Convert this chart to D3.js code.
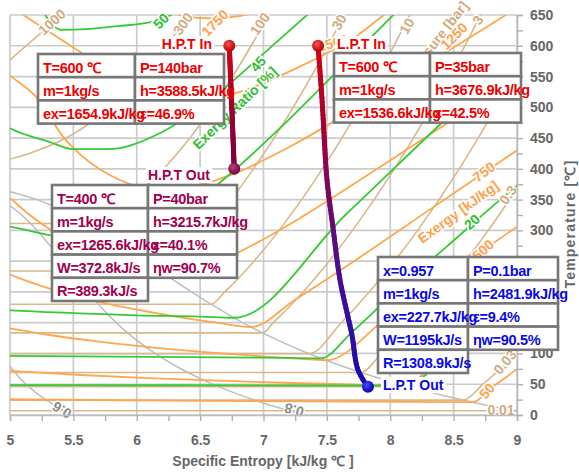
<!DOCTYPE html>
<html>
<head>
<meta charset="utf-8">
<script src="https://cdn.jsdelivr.net/npm/d3@7"></script>
<style>
	body { margin: 0; background: #fff; }
	svg text { font-family: 'Liberation Sans', Arial, sans-serif; font-weight: bold; }
</style>
</head>
<body>
<div id="container"></div>
<script>
'use strict';

// axis ticks
let sTicks = [5, 5.5, 6, 6.5, 7, 7.5, 8, 8.5, 9];
let tTicks = [0, 50, 100, 150, 200, 250, 300, 350, 400, 450, 500, 550, 600, 650];

// isobars [s kJ/kgK, T C]
let isobar0_01 = [[4.9, 7], [8.975, 7], [9.05, 12]];
let isobar0_03 = [[4.9, 24.1], [8.578, 24.1], [8.731, 50], [9.004, 100], [9.05, 108]];
let isobar0_1 = [[4.9, 45.8], [8.149, 45.8], [8.175, 50], [8.448, 100], [8.688, 150], [8.904, 200], [9.1, 250]];
let isobar0_3 = [[4.9, 69.1], [7.768, 69.1], [7.931, 100], [8.176, 150], [8.394, 200], [8.591, 250], [8.773, 300], [9.1, 400]];
let isobar1 = [[4.9, 99.6], [7.359, 99.6], [7.614, 150], [7.834, 200], [8.033, 250], [8.216, 300], [8.544, 400], [8.834, 500], [9.098, 600]];
let isobar3 = [[4.9, 133.5], [6.992, 133.5], [7.078, 150], [7.312, 200], [7.517, 250], [7.702, 300], [8.033, 400], [8.325, 500], [8.589, 600], [8.832, 700]];
let isobar10 = [[4.9, 179.9], [6.586, 179.9], [6.694, 200], [6.925, 250], [7.123, 300], [7.301, 350], [7.465, 400], [7.762, 500], [8.029, 600], [8.273, 700]];
let isobar30 = [[4.9, 233.9], [6.187, 233.9], [6.287, 250], [6.539, 300], [6.743, 350], [6.921, 400], [7.083, 450], [7.234, 500], [7.509, 600], [7.757, 700]];
let isobar100 = [[4.9, 311.1], [5.614, 311.1], [5.944, 350], [6.212, 400], [6.419, 450], [6.597, 500], [6.756, 550], [6.903, 600], [7.04, 650], [7.17, 700]];
let isobar300 = [[4.473, 400], [5.15, 425], [5.442, 450], [5.79, 500], [6.034, 550], [6.233, 600], [6.406, 650], [6.56, 700]];
let isobar1000 = [[4.8, 540], [5.0, 577], [5.24, 620], [5.4, 650], [5.5, 670]];

// saturated vapour and quality lines
let satVapour = [[4.8, 370], [5.053, 360], [5.211, 350], [5.335, 340], [5.537, 320], [5.705, 300], [5.852, 280], [5.998, 260], [6.141, 240], [6.285, 220], [6.432, 200], [6.586, 180], [6.75, 160], [6.929, 140], [7.129, 120], [7.354, 100], [7.611, 80], [7.908, 60], [8.075, 50], [8.256, 40], [8.452, 30], [8.666, 20], [8.975, 7], [9.156, 0]];
let quality0_8 = [[4.9, 350], [5.0, 340], [5.215, 300], [5.375, 260], [5.532, 220], [5.697, 180], [5.891, 140], [6.145, 100], [6.304, 80], [6.493, 60], [6.719, 40], [6.992, 20], [7.201, 7], [7.325, 0]];
let quality0_6 = [[4.95, 90], [4.997, 80], [5.077, 60], [5.182, 40], [5.318, 20], [5.427, 7], [5.494, 0]];

// exergy lines [kJ/kg]
let exergy50 = [[4.83, 26], [5.29, 25], [5.84, 24], [6.53, 23], [7.41, 22], [8.59, 21], [8.65, 20.9], [8.8, 44.4], [9.0, 74.8], [9.05, 83]];
let exergy250 = [[4.8, 75], [4.99, 72], [5.139, 70], [5.561, 65], [6.09, 60], [6.753, 55], [7.238, 52], [7.614, 50], [8.1, 47.6], [8.366, 85], [8.7, 134.7], [9.0, 179.5], [9.05, 187]];
let exergy500 = [[4.9, 144], [5.021, 140], [5.312, 130], [5.67, 120], [6.114, 110], [6.671, 100], [7.009, 95], [7.393, 90], [7.493, 88.8], [7.978, 158.8], [8.5, 234], [9.0, 306], [9.05, 313]];
let exergy750 = [[4.98, 230], [5.104, 220], [5.399, 200], [5.784, 180], [6.307, 160], [6.632, 150], [6.903, 143], [7.246, 187], [7.702, 248.4], [8.34, 337.8], [8.919, 418.8], [9.05, 437]];
let exergy1000 = [[4.95, 356], [5.014, 350], [5.069, 340], [5.187, 320], [5.328, 300], [5.502, 280], [5.719, 260], [5.988, 240], [6.259, 223.7], [6.461, 234.5], [6.741, 258], [7.122, 299.7], [7.901, 400.7], [8.431, 471.8], [8.938, 539.5], [9.05, 555]];
let exergy1250 = [[4.9, 570], [5.0, 552], [5.21, 516], [5.431, 449], [5.517, 430.5], [5.629, 410.8], [5.79, 389.6], [6.046, 369.7], [6.206, 366.3], [6.418, 370.3], [6.728, 389], [7.252, 441], [7.775, 504.6], [8.423, 587.5], [8.892, 647.6], [9.0, 662]];
let exergy1500 = [[5.0, 664], [5.5, 597], [5.804, 555.5], [5.959, 534.6], [6.063, 524], [6.205, 515.2], [6.379, 510], [6.646, 515.6], [6.794, 523.7], [7.27, 564.5], [7.746, 617.7], [7.95, 650], [8.0, 658]];
let exergy1750 = [[6.25, 655], [6.398, 647.6], [6.507, 645], [6.621, 644.7], [6.82, 648.7], [6.95, 655]];

// exergy ratio lines [%]
let ratio10 = [[4.9, 48.8], [5.0, 48.7], [7.0, 48.2], [8.11, 47.9], [8.568, 124], [9.0, 195], [9.05, 203]];
let ratio20 = [[4.9, 96.5], [5.0, 96], [7.2, 92.8], [7.45, 92], [7.7, 135], [8.0, 193], [8.436, 272], [9.0, 372], [9.05, 380]];
let ratio30 = [[4.9, 171], [5.0, 170], [6.0, 162], [6.5, 160], [6.77, 158], [7.656, 327], [8.483, 489.5], [9.12, 610]];
let ratio40 = [[4.9, 310], [5.0, 306], [5.5, 285], [5.89, 275.6], [6.33, 325], [6.738, 392], [7.134, 467], [7.601, 562.5], [8.29, 705]];
let ratio45 = [[4.9, 478], [5.0, 466], [5.309, 444], [5.501, 432], [5.776, 431.9], [6.166, 456.3], [6.7, 532.4], [6.961, 580], [7.3, 642], [7.4, 660]];
let ratio50 = [[5.25, 660], [5.33, 635], [5.4, 626], [5.6, 627], [5.85, 632], [6.1, 638], [6.25, 648], [6.35, 660]];

// turbine expansion lines
let hptLine = [[6.73, 600], [6.75, 500], [6.769, 400]];
let lptLine = [[7.43, 600], [7.462, 512], [7.501, 382], [7.548, 305], [7.604, 219], [7.667, 159], [7.698, 130], [7.738, 78], [7.777, 60], [7.824, 45.8]];

// state tables
let hptInRows = [['T=600 ℃', 'P=140bar'], ['m=1kg/s', 'h=3588.5kJ/kg'], ['ex=1654.9kJ/kg', 'ε=46.9%']];
let lptInRows = [['T=600 ℃', 'P=35bar'], ['m=1kg/s', 'h=3676.9kJ/kg'], ['ex=1536.6kJ/kg', 'ε=42.5%']];
let hptOutRows = [['T=400 ℃', 'P=40bar'], ['m=1kg/s', 'h=3215.7kJ/kg'], ['ex=1265.6kJ/kg', 'ε=40.1%'], ['W=372.8kJ/s', 'ηw=90.7%'], ['R=389.3kJ/s']];
let lptOutRows = [['x=0.957', 'P=0.1bar'], ['m=1kg/s', 'h=2481.9kJ/kg'], ['ex=227.7kJ/kg', 'ε=9.4%'], ['W=1195kJ/s', 'ηw=90.5%'], ['R=1308.9kJ/s']];

let svg = d3.select('#container')
	.append('svg')
	.attr('width', 579)
	.attr('height', 472)
	.style('background', '#fff');

let x = d3.scaleLinear().domain([5, 9]).range([10, 517]);
let y = d3.scaleLinear().domain([0, 650]).range([415, 15]);

let defs = svg.append('defs');
defs.append('clipPath').attr('id', 'plot')
	.append('rect').attr('x', 10).attr('y', 15).attr('width', 507).attr('height', 400);

function ball(id, light, dark) {
	let g = defs.append('radialGradient').attr('id', id).attr('cx', '40%').attr('cy', '35%').attr('r', '65%');
	g.append('stop').attr('offset', '0%').attr('stop-color', light);
	g.append('stop').attr('offset', '100%').attr('stop-color', dark);
}
ball('redBall', '#ff5050', '#b00000');
ball('wineBall', '#c0407a', '#6e0038');
ball('blueBall', '#4a4aff', '#0000a8');

// grid
let grid = svg.append('g');
grid.selectAll('.v').data(sTicks).enter().append('line')
	.attr('x1', d => x(d)).attr('x2', d => x(d))
	.attr('y1', y(0)).attr('y2', y(650))
	.attr('stroke', '#cbcbcb').attr('stroke-width', 1.7);
grid.selectAll('.h').data(tTicks).enter().append('line')
	.attr('x1', x(5)).attr('x2', x(9))
	.attr('y1', d => y(d)).attr('y2', d => y(d))
	.attr('stroke', '#cbcbcb').attr('stroke-width', 1.7);

// property lines
let lineGen = d3.line().x(d => x(d[0])).y(d => y(d[1])).curve(d3.curveMonotoneX);
let curves = svg.append('g').attr('clip-path', 'url(#plot)');

function drawFamily(list, color, w) {
	curves.append('g').selectAll('path').data(list).enter().append('path')
		.attr('d', lineGen)
		.attr('fill', 'none')
		.attr('stroke', color)
		.attr('stroke-width', w);
}
drawFamily([satVapour, quality0_8, quality0_6], '#bebebe', 1.5);
drawFamily([isobar0_01, isobar0_03, isobar0_1, isobar0_3, isobar1, isobar3, isobar10, isobar30, isobar100, isobar300, isobar1000], '#dab78c', 1.6);
drawFamily([exergy50, exergy250, exergy500, exergy750, exergy1000, exergy1250, exergy1500, exergy1750], '#ffa64f', 1.8);
drawFamily([ratio10, ratio20, ratio30, ratio40, ratio45, ratio50], '#36c936', 1.8);

// line labels
let lineLabels = [
	{ t: '1000', s: 5.331, T: 638.6, a: -42, c: '#d2aa80' },
	{ t: '300', s: 6.365, T: 635.4, a: -55, c: '#d2aa80' },
	{ t: '100', s: 6.972, T: 635.4, a: -55, c: '#d2aa80' },
	{ t: '30', s: 7.596, T: 638.6, a: -60, c: '#d2aa80' },
	{ t: '10', s: 8.132, T: 632.1, a: -60, c: '#d2aa80' },
	{ t: '3', s: 8.692, T: 641.9, a: -58, c: '#d2aa80' },
	{ t: '0.3', s: 8.929, T: 357.5, a: -55, c: '#d2aa80' },
	{ t: '0.03', s: 8.905, T: 86.1, a: -50, c: '#d2aa80' },
	{ t: '0.01', s: 8.874, T: 8.1, a: 0, c: '#d2aa80' },
	{ t: '0.6', s: 5.41, T: 8.1, a: 210, c: '#8a8a8a' },
	{ t: '0.8', s: 7.241, T: 8.1, a: 195, c: '#8a8a8a' },
	{ t: '1750', s: 6.617, T: 637, a: -45, c: '#ffa04a' },
	{ t: '1500', s: 7.549, T: 604.5, a: -15, c: '#ffa04a' },
	{ t: 'Pressure [bar]', s: 8.361, T: 608.6, a: -52, c: '#d2aa80' },
	{ t: '1250', s: 8.503, T: 615.7, a: -45, c: '#ffa04a' },
	{ t: '750', s: 8.74, T: 394.9, a: -38, c: '#ffa04a' },
	{ t: '500', s: 8.732, T: 268.1, a: -42, c: '#ffa04a' },
	{ t: '50', s: 8.763, T: 39, a: -50, c: '#ffa04a' },
	{ t: 'Exergy [kJ/kg]', s: 8.535, T: 329.9, a: -36, c: '#ffa04a' },
	{ t: '50', s: 6.191, T: 640.25, a: -45, c: '#2ec02e' },
	{ t: '45', s: 6.957, T: 570.4, a: -50, c: '#2ec02e' },
	{ t: 'Exergy Ratio [%]', s: 6.775, T: 498.9, a: -44, c: '#2ec02e' },
	{ t: '20', s: 8.645, T: 313.6, a: -42, c: '#2ec02e' }
];
svg.append('g').selectAll('text').data(lineLabels).enter().append('text')
	.attr('transform', d => 'translate(' + x(d.s) + ',' + y(d.T) + ') rotate(' + d.a + ')')
	.attr('text-anchor', 'middle')
	.attr('dy', '0.35em')
	.attr('fill', d => d.c)
	.attr('stroke', '#fff')
	.attr('stroke-width', 3)
	.attr('paint-order', 'stroke')
	.style('font-size', '14px')
	.text(d => d.t);

// axes
let xAxis = d3.axisBottom(x)
	.tickValues(d3.range(5, 9.01, 0.25))
	.tickSize(6)
	.tickPadding(14)
	.tickFormat(d => sTicks.includes(d) ? String(d) : '');
let gx = svg.append('g').attr('transform', 'translate(0,415)').call(xAxis);

let yAxis = d3.axisRight(y)
	.tickValues(d3.range(0, 651, 25))
	.tickSize(6)
	.tickPadding(7)
	.tickFormat(d => tTicks.includes(d) ? String(d) : '');
let gy = svg.append('g').attr('transform', 'translate(517,0)').call(yAxis);

[gx, gy].forEach(g => {
	g.select('.domain').attr('stroke', '#bdbdbd').attr('stroke-width', 1.6);
	g.selectAll('.tick line').attr('stroke', '#b0b0b0').attr('stroke-width', 1.4);
	g.selectAll('.tick text').attr('fill', '#666').style('font-size', '14px').style('font-family', "'Liberation Sans', Arial, sans-serif").style('font-weight', 'bold');
});

svg.append('text')
	.attr('x', 263).attr('y', 466)
	.attr('text-anchor', 'middle')
	.attr('fill', '#666')
	.style('font-size', '14px')
	.text('Specific Entropy [kJ/kg ℃ ]');

svg.append('text')
	.attr('transform', 'translate(575,224) rotate(-90)')
	.attr('text-anchor', 'middle')
	.attr('fill', '#666')
	.style('font-size', '14px')
	.style('letter-spacing', '1.2px')
	.text('Temperature [℃]');

// expansion lines
function drawProcess(points, colors) {
	let gen = d3.line().x(d => x(d[0])).y(d => y(d[1])).curve(d3.curveCatmullRom);
	let path = svg.append('path').attr('d', gen(points)).attr('fill', 'none').attr('stroke', 'none');
	let node = path.node();
	let len = node.getTotalLength();
	let n = 80;
	let color = d3.interpolateRgbBasis(colors);
	let segs = d3.range(n).map(i => {
		let a = node.getPointAtLength(len * i / n);
		let b = node.getPointAtLength(len * (i + 1) / n);
		return { a, b, c: color(i / (n - 1)) };
	});
	svg.append('g').selectAll('line').data(segs).enter().append('line')
		.attr('x1', d => d.a.x).attr('y1', d => d.a.y)
		.attr('x2', d => d.b.x).attr('y2', d => d.b.y)
		.attr('stroke', d => d.c)
		.attr('stroke-width', 5)
		.attr('stroke-linecap', 'round');
}
drawProcess(hptLine, ['#d80010', '#a00030', '#7a0040']);
drawProcess(lptLine, ['#d80010', '#a00035', '#6a0a70', '#3a10a0', '#1a0ab0']);

let dots = [
	{ p: hptLine[0], f: 'url(#redBall)' },
	{ p: hptLine[hptLine.length - 1], f: 'url(#wineBall)' },
	{ p: lptLine[0], f: 'url(#redBall)' },
	{ p: lptLine[lptLine.length - 1], f: 'url(#blueBall)' }
];
svg.append('g').selectAll('circle').data(dots).enter().append('circle')
	.attr('cx', d => x(d.p[0])).attr('cy', d => y(d.p[1]))
	.attr('r', 6)
	.attr('fill', d => d.f);

// state labels, on a white patch
let stateLabels = [
	{ t: 'H.P.T In', px: 212, py: 49, anchor: 'end', c: '#ee0000' },
	{ t: 'L.P.T In', px: 337, py: 49, anchor: 'start', c: '#ee0000' },
	{ t: 'H.P.T Out', px: 148, py: 180, anchor: 'start', c: '#a0004e' },
	{ t: 'L.P.T Out', px: 383, py: 390, anchor: 'start', c: '#0a0ae6' }
];
let sl = svg.append('g').selectAll('g').data(stateLabels).enter().append('g');
sl.append('rect').attr('fill', '#fff');
sl.append('text')
	.attr('x', d => d.px).attr('y', d => d.py)
	.attr('text-anchor', d => d.anchor)
	.attr('fill', d => d.c)
	.style('font-size', '14px')
	.text(d => d.t);
sl.each(function () {
	let g = d3.select(this);
	let b = g.select('text').node().getBBox();
	g.select('rect').attr('x', b.x - 2).attr('y', b.y).attr('width', b.width + 4).attr('height', b.height);
});

// tables
function drawTable(x0, y0, widths, rows, color) {
	let rowH = 23.2;
	let cells = [];
	rows.forEach((row, i) => {
		row.forEach((txt, j) => {
			cells.push({ x: x0 + d3.sum(widths.slice(0, j)), y: y0 + i * rowH, w: widths[j], txt: txt });
		});
	});
	let g = svg.append('g');
	g.selectAll('rect').data(cells).enter().append('rect')
		.attr('x', d => d.x).attr('y', d => d.y)
		.attr('width', d => d.w).attr('height', rowH)
		.attr('fill', '#fff')
		.attr('stroke', '#777')
		.attr('stroke-width', 2.6);
	g.selectAll('text').data(cells).enter().append('text')
		.attr('x', d => d.x + 5).attr('y', d => d.y + 18.5)
		.attr('fill', color)
		.style('font-size', '14.5px')
		.style('letter-spacing', '-0.3px')
		.text(d => d.txt);
}
drawTable(38, 54, [97, 89], hptInRows, '#ee0000');
drawTable(334, 53, [96, 91], lptInRows, '#ee0000');
drawTable(52, 185, [96, 89], hptOutRows, '#a0004e');
drawTable(378, 257, [90, 90], lptOutRows, '#0a0ae6');
</script>
</body>
</html>
